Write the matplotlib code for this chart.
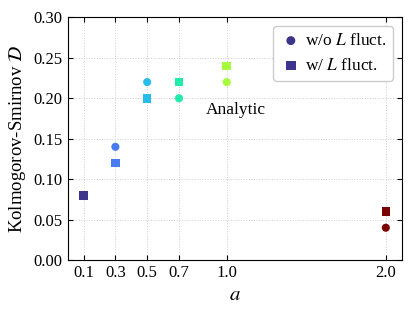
import numpy as np
import matplotlib
matplotlib.use('Agg')
import matplotlib.pyplot as plt

plt.rcParams['font.family'] = 'Liberation Serif'
plt.rcParams['mathtext.fontset'] = 'stix'

a_vals = [0.1, 0.3, 0.5, 0.7, 1.0, 2.0]
ks_no_fluct = [0.08, 0.14, 0.22, 0.20, 0.22, 0.04]
ks_fluct = [0.08, 0.12, 0.20, 0.22, 0.24, 0.06]
tick_labels = ['0.1', '0.3', '0.5', '0.7', '1.0', '2.0']

colors = plt.cm.turbo(np.array(a_vals) / 2.0)

fig, ax = plt.subplots(figsize=(4.15, 3.16), dpi=100)
fig.subplots_adjust(left=0.163, right=0.968, top=0.945, bottom=0.177)

ax.scatter(a_vals, ks_no_fluct, c=colors, marker='o', s=34, linewidths=0, zorder=3,
           label=r'w/o $L$ fluct.')
ax.scatter(a_vals, ks_fluct, c=colors, marker='s', s=38, linewidths=0, zorder=4,
           label=r'w/ $L$ fluct.')

ax.text(1.06, 0.185, 'Analytic', fontsize=12.5, ha='center', va='center')

ax.set_xlim(0, 2.1)
ax.set_ylim(0, 0.30)
ax.set_xticks(a_vals)
ax.set_xticklabels(tick_labels)
ax.set_yticks(np.arange(0, 0.31, 0.05))
ax.yaxis.set_major_formatter(plt.FormatStrFormatter('%.2f'))
ax.tick_params(direction='in', top=True, right=True, labelsize=12)
ax.grid(True, linestyle=':', color='#cccccc', linewidth=0.7)

ax.set_xlabel(r'$a$', fontsize=15)
ax.set_ylabel(r'Kolmogorov-Smirnov $\mathcal{D}$', fontsize=13.5)

ax.legend(loc='upper right', fontsize=12.5, handletextpad=0.2, borderpad=0.4,
          handlelength=1.2, markerscale=1.1, framealpha=1, edgecolor='#cccccc')

plt.savefig('out.png', dpi=100)
